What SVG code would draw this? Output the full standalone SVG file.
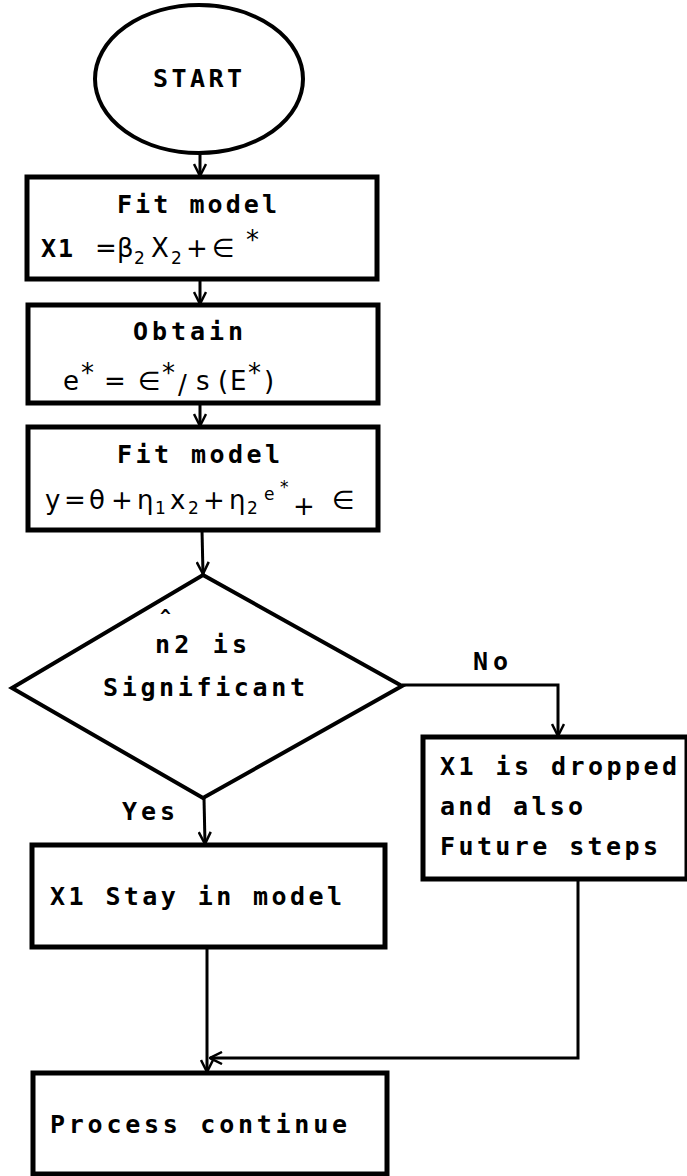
<svg xmlns="http://www.w3.org/2000/svg" width="687" height="1176" viewBox="0 0 687 1176">
<style>
.box{fill:#fff;stroke:#000;stroke-width:5}
.shape{fill:#fff;stroke:#000;stroke-width:4}
.lbl{font-family:"DejaVu Sans Mono","Liberation Mono",monospace;font-weight:bold;font-size:25px;fill:#000}
.math{font-family:"DejaVu Sans","Liberation Sans",sans-serif;font-size:26px;fill:#000}
.sub{font-size:17px}
.con{fill:none;stroke:#000;stroke-width:3}
</style>
<defs>
<marker id="arr" viewBox="0 0 14 14" refX="13" refY="7" markerWidth="14" markerHeight="14" markerUnits="userSpaceOnUse" orient="auto">
<path d="M1,1 L13,7 L1,13" fill="none" stroke="#000" stroke-width="2.5"/>
</marker>
</defs>
<g id="connectors">
<line class="con" x1="200" y1="153" x2="200" y2="176" marker-end="url(#arr)"/>
<line class="con" x1="200" y1="279" x2="200" y2="304" marker-end="url(#arr)"/>
<line class="con" x1="200" y1="403" x2="200" y2="426" marker-end="url(#arr)"/>
<line class="con" x1="202" y1="530" x2="203" y2="574" marker-end="url(#arr)"/>
<polyline class="con" points="402,685 558,685 558,736" marker-end="url(#arr)"/>
<line class="con" x1="204" y1="798" x2="205" y2="844" marker-end="url(#arr)"/>
<line class="con" x1="207" y1="947" x2="207" y2="1072" marker-end="url(#arr)"/>
<polyline class="con" points="578,879 578,1058 210,1058" marker-end="url(#arr)"/>
</g>
<g id="start">
<ellipse class="shape" cx="199" cy="79" rx="104" ry="74"/>
<text class="lbl" x="153" y="87" textLength="89" lengthAdjust="spacing">START</text>
</g>
<g id="fit1">
<rect class="box" x="27" y="177" width="350" height="102"/>
<text class="lbl" x="117" y="213" textLength="160" lengthAdjust="spacing">Fit model</text>
<text class="lbl" x="41" y="257" textLength="32" lengthAdjust="spacing">X1</text>
<text class="math" y="257"><tspan x="95">=</tspan><tspan x="117">β</tspan><tspan class="sub" x="134" y="264">2</tspan><tspan x="151" y="257">X</tspan><tspan class="sub" x="171" y="264">2</tspan><tspan x="186" y="257">+</tspan><tspan x="212">∈</tspan><tspan x="246" y="249">*</tspan></text>
</g>
<g id="obtain">
<rect class="box" x="28" y="305" width="350" height="98"/>
<text class="lbl" x="133" y="340" textLength="110" lengthAdjust="spacing">Obtain</text>
<text class="math" y="390"><tspan x="63">e</tspan><tspan x="81" y="382">*</tspan><tspan x="104" y="390">=</tspan><tspan x="138">∈</tspan><tspan x="162" y="382">*</tspan><tspan x="178" y="394">/</tspan><tspan x="196" y="390">s</tspan><tspan x="218">(</tspan><tspan x="230">E</tspan><tspan x="248" y="382">*</tspan><tspan x="264" y="390">)</tspan></text>
</g>
<g id="fit2">
<rect class="box" x="28" y="427" width="350" height="103"/>
<text class="lbl" x="117" y="463" textLength="163" lengthAdjust="spacing">Fit model</text>
<text class="math" y="509"><tspan x="45">y</tspan><tspan x="64">=</tspan><tspan x="89">θ</tspan><tspan x="111">+</tspan><tspan x="137">η</tspan><tspan class="sub" x="155" y="514">1</tspan><tspan x="170" y="509">x</tspan><tspan class="sub" x="188" y="514">2</tspan><tspan x="203" y="509">+</tspan><tspan x="229">η</tspan><tspan class="sub" x="247" y="514">2</tspan><tspan class="sub" x="264" y="500">e</tspan><tspan class="sub" x="280" y="493">*</tspan><tspan x="293" y="515">+</tspan><tspan x="332" y="509">∈</tspan></text>
</g>
<g id="decision">
<polygon class="shape" points="203,575 402,686 203,798 12,688"/>
<text class="lbl" x="160" y="622" style="font-size:18px">^</text>
<text class="lbl" x="155" y="653" textLength="92" lengthAdjust="spacing">n2 is</text>
<text class="lbl" x="103" y="696" textLength="202" lengthAdjust="spacing">Significant</text>
</g>
<g id="labels">
<text class="lbl" x="473" y="670" textLength="35" lengthAdjust="spacing">No</text>
<text class="lbl" x="122" y="820" textLength="53" lengthAdjust="spacing">Yes</text>
</g>
<g id="dropped">
<rect class="box" x="423" y="737" width="264" height="142"/>
<text class="lbl" x="440" y="775" textLength="237" lengthAdjust="spacing">X1 is dropped</text>
<text class="lbl" x="440" y="815" textLength="143" lengthAdjust="spacing">and also</text>
<text class="lbl" x="440" y="855" textLength="218" lengthAdjust="spacing">Future steps</text>
</g>
<g id="stay">
<rect class="box" x="32" y="845" width="353" height="102"/>
<text class="lbl" x="50" y="905" textLength="292" lengthAdjust="spacing">X1 Stay in model</text>
</g>
<g id="process">
<rect class="box" x="33" y="1073" width="354" height="101"/>
<text class="lbl" x="50" y="1133" textLength="297" lengthAdjust="spacing">Process continue</text>
</g>
</svg>
